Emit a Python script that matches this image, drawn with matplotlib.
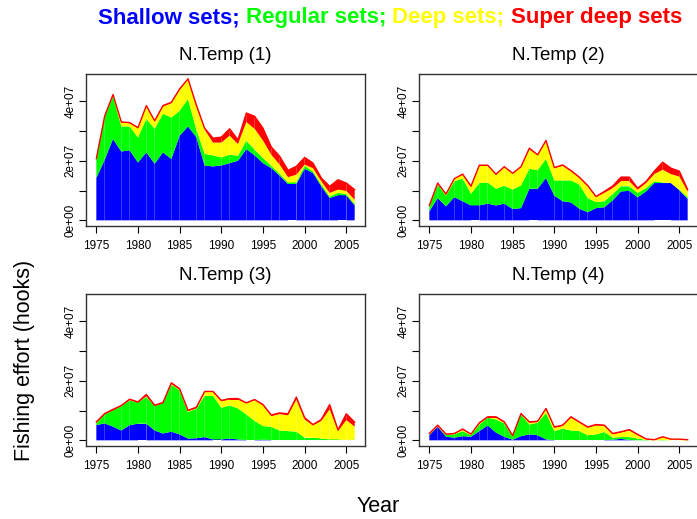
import numpy as np
import matplotlib
matplotlib.use("Agg")
import matplotlib.pyplot as plt

plt.rcParams['font.family'] = ['Liberation Sans', 'DejaVu Sans']

years = np.arange(1975, 2007)
xticks = [1975, 1980, 1985, 1990, 1995, 2000, 2005]
yticks = [0, 1e7, 2e7, 3e7, 4e7]
ytick_labels = ["0e+00", "", "2e+07", "", "4e+07"]
titles = ["N.Temp (1)", "N.Temp (2)", "N.Temp (3)", "N.Temp (4)"]
set_names = ["Shallow sets; ", "Regular sets; ", "Deep sets; ", "Super deep sets"]
colors = ["#0000FF", "#00FF00", "#FFFF00", "#FF0000"]

# hooks, in units of 1e7
shallow1 = [1.42, 2.03, 2.73, 2.31, 2.35, 1.94, 2.28, 1.90, 2.28, 2.06, 2.84, 3.15, 2.79, 1.84, 1.81, 1.84,
            1.92, 2.00, 2.39, 2.18, 1.92, 1.75, 1.50, 1.22, 1.22, 1.73, 1.59, 1.14, 0.75, 0.84, 0.84, 0.50]
regular1 = [0.61, 1.43, 1.45, 0.84, 0.80, 0.84, 1.12, 1.17, 1.30, 1.39, 0.84, 0.92, 0.26, 0.39, 0.37, 0.27,
            0.28, 0.17, 0.28, 0.19, 0.17, 0.08, 0.06, 0.05, 0.05, 0.10, 0.05, 0.06, 0.05, 0.08, 0.04, 0.05]
deep1 = [0.02, 0.02, 0.02, 0.13, 0.11, 0.31, 0.42, 0.25, 0.24, 0.48, 0.70, 0.65, 0.77, 0.81, 0.43, 0.50,
         0.64, 0.39, 0.63, 0.70, 0.59, 0.37, 0.31, 0.18, 0.26, 0.04, 0.11, 0.11, 0.12, 0.11, 0.11, 0.14]
superdeep1 = [0.02, 0.02, 0.02, 0.02, 0.02, 0.02, 0.03, 0.02, 0.03, 0.03, 0.03, 0.03, 0.05, 0.05, 0.15, 0.18,
              0.23, 0.14, 0.30, 0.42, 0.41, 0.26, 0.28, 0.23, 0.28, 0.24, 0.17, 0.11, 0.22, 0.33, 0.26, 0.34]

shallow2 = [0.30, 0.75, 0.47, 0.78, 0.64, 0.50, 0.50, 0.56, 0.50, 0.56, 0.38, 0.41, 1.06, 1.06, 1.42, 0.83,
            0.64, 0.60, 0.39, 0.27, 0.41, 0.44, 0.67, 0.97, 0.99, 0.77, 0.97, 1.25, 1.25, 1.25, 1.01, 0.72]
regular2 = [0.17, 0.45, 0.36, 0.53, 0.76, 0.39, 0.75, 0.71, 0.56, 0.60, 0.65, 0.76, 0.67, 0.62, 0.64, 0.51,
            0.70, 0.74, 0.81, 0.48, 0.20, 0.20, 0.21, 0.17, 0.15, 0.15, 0.11, 0.06, 0.02, 0.00, 0.02, 0.06]
deep2 = [0.00, 0.03, 0.03, 0.08, 0.13, 0.22, 0.58, 0.56, 0.47, 0.63, 0.53, 0.62, 0.66, 0.50, 0.59, 0.41,
         0.49, 0.30, 0.22, 0.39, 0.17, 0.28, 0.20, 0.17, 0.17, 0.11, 0.17, 0.24, 0.43, 0.30, 0.44, 0.19]
superdeep2 = [0.03, 0.02, 0.02, 0.01, 0.02, 0.04, 0.02, 0.02, 0.02, 0.01, 0.02, 0.01, 0.03, 0.02, 0.03, 0.02,
              0.03, 0.03, 0.03, 0.03, 0.02, 0.05, 0.07, 0.14, 0.14, 0.05, 0.05, 0.10, 0.25, 0.20, 0.18, 0.06]

shallow3 = [0.51, 0.57, 0.46, 0.33, 0.51, 0.56, 0.56, 0.33, 0.23, 0.29, 0.20, 0.06, 0.07, 0.11, 0.03, 0.03,
            0.06, 0.03, 0.01, 0.01, 0.02, 0.01, 0.01, 0.01, 0.01, 0.01, 0.01, 0.01, 0.01, 0.01, 0.01, 0.01]
regular3 = [0.06, 0.30, 0.54, 0.82, 0.83, 0.70, 0.90, 0.82, 1.01, 1.58, 1.48, 0.89, 0.99, 1.39, 1.47, 1.06,
            1.11, 1.04, 0.86, 0.64, 0.46, 0.44, 0.32, 0.30, 0.28, 0.08, 0.08, 0.05, 0.02, 0.02, 0.00, 0.02]
deep3 = [0.02, 0.00, 0.00, 0.00, 0.01, 0.00, 0.02, 0.00, 0.00, 0.02, 0.02, 0.03, 0.01, 0.11, 0.11, 0.22,
         0.20, 0.30, 0.37, 0.70, 0.69, 0.36, 0.55, 0.53, 1.08, 0.61, 0.41, 0.59, 1.01, 0.28, 0.67, 0.43]
superdeep3 = [0.03, 0.03, 0.04, 0.02, 0.03, 0.03, 0.06, 0.03, 0.03, 0.04, 0.03, 0.03, 0.04, 0.03, 0.03, 0.03,
              0.03, 0.03, 0.02, 0.02, 0.03, 0.04, 0.04, 0.05, 0.08, 0.06, 0.03, 0.05, 0.16, 0.04, 0.21, 0.15]

shallow4 = [0.17, 0.46, 0.12, 0.09, 0.14, 0.12, 0.31, 0.50, 0.26, 0.12, 0.02, 0.14, 0.20, 0.17, 0.03, 0.01,
            0.01, 0.01, 0.01, 0.01, 0.01, 0.01, 0.02, 0.05, 0.01, 0.00, 0.00, 0.00, 0.00, 0.00, 0.00, 0.00]
regular4 = [0.03, 0.00, 0.06, 0.11, 0.17, 0.05, 0.22, 0.26, 0.44, 0.45, 0.10, 0.73, 0.33, 0.42, 0.89, 0.30,
            0.38, 0.32, 0.30, 0.16, 0.19, 0.27, 0.07, 0.06, 0.10, 0.06, 0.01, 0.00, 0.01, 0.00, 0.00, 0.00]
deep4 = [0.00, 0.02, 0.01, 0.01, 0.04, 0.02, 0.03, 0.00, 0.06, 0.02, 0.01, 0.00, 0.06, 0.02, 0.12, 0.11,
         0.09, 0.43, 0.28, 0.25, 0.30, 0.20, 0.11, 0.15, 0.22, 0.11, 0.02, 0.01, 0.09, 0.03, 0.03, 0.01]
superdeep4 = [0.03, 0.03, 0.02, 0.02, 0.03, 0.02, 0.03, 0.03, 0.03, 0.03, 0.03, 0.03, 0.03, 0.03, 0.03, 0.03,
              0.03, 0.03, 0.03, 0.03, 0.03, 0.03, 0.03, 0.03, 0.03, 0.03, 0.02, 0.01, 0.02, 0.01, 0.01, 0.01]

panels = [
    [shallow1, regular1, deep1, superdeep1],
    [shallow2, regular2, deep2, superdeep2],
    [shallow3, regular3, deep3, superdeep3],
    [shallow4, regular4, deep4, superdeep4],
]

fig = plt.figure(figsize=(6.97, 5.19), dpi=100)
W, H = 697, 519
# axes boxes in pixels: left, top
boxes = [(86, 74), (419, 74), (86, 294), (419, 294)]
bw, bh = 279, 152

for k, series in enumerate(panels):
    left, top = boxes[k]
    ax = fig.add_axes([left / W, (H - top - bh) / H, bw / W, bh / H])
    vals = np.array(series) * 1e7
    cum = np.vstack([np.zeros(len(years)), np.cumsum(vals, axis=0)])
    for j in range(4):
        # one polygon per year step, like the original
        for i in range(len(years) - 1):
            ax.fill_between(years[i:i + 2], cum[j, i:i + 2], cum[j + 1, i:i + 2],
                            facecolor=colors[j], edgecolor='none', lw=0)
    ax.plot(years, cum[4], color=colors[3], lw=1.0)

    ax.set_xlim(1973.76, 2007.24)
    ax.set_ylim(-0.19e7, 4.91e7)
    ax.set_xticks(xticks)
    ax.set_xticklabels([str(x) for x in xticks])
    ax.set_yticks(yticks)
    ax.set_yticklabels(ytick_labels, rotation=90, va='center')
    ax.tick_params(axis='both', direction='out', length=5, width=0.8, labelsize=8.5, color='black')
    ax.tick_params(axis='x', pad=5)
    ax.tick_params(axis='y', pad=2)
    for sp in ax.spines.values():
        sp.set_color('#333333')
        sp.set_linewidth(1.0)
    ax.text(0.5, 1 + 19 / bh, titles[k], transform=ax.transAxes,
            ha='center', va='center', fontsize=13.5)

# coloured main title
renderer = fig.canvas.get_renderer()
pieces = []
for name, c in zip(set_names, colors):
    t = fig.text(0, 1 - 18 / H, name, color=c, fontsize=16, fontweight='bold', va='center', ha='left')
    pieces.append(t)
widths = [p.get_window_extent(renderer).width for p in pieces]
x0 = 390 - sum(widths) / 2
for p, w in zip(pieces, widths):
    p.set_x(x0 / W)
    x0 += w

fig.text(25 / W, 1 - 360 / H, "Fishing effort (hooks)", rotation=90, ha='center', va='center', fontsize=15.5)
fig.text(378 / W, 1 - 506 / H, "Year", ha='center', va='center', fontsize=15.5)

fig.savefig("out.png", dpi=100)
